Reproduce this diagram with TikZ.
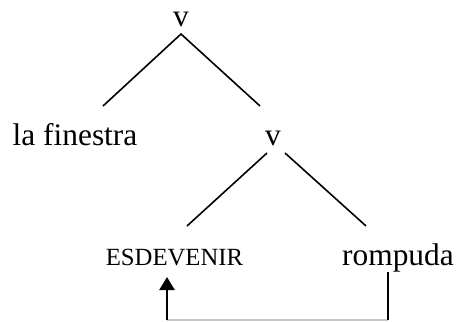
\documentclass[tikz,border=0pt]{standalone}
\usepackage{fontspec}
\setmainfont{Liberation Serif}
\usetikzlibrary{arrows.meta}

\tikzset{
  word/.style={inner sep=0pt, anchor=base, font=\fontsize{31.5}{32}\selectfont},
  small/.style={word, font=\fontsize{24.8}{26}\selectfont},
  branch/.style={line width=1.6bp},
}

\begin{document}
\begin{tikzpicture}[x=1bp, y=-1bp]
\useasboundingbox (0,0) rectangle (457,321);
% words of the tree
\node[word]  (V)   at (181,26)  {v};
\node[word]  (Fin) at (75,145)  {la finestra};
\node[word]  (VV)  at (273,145) {v};
\node[small] (Esd) at (174.5,265) {ESDEVENIR};
\node[word]  (Rom) at (398,265) {rompuda};
% ends of the branches
\coordinate (V-top)   at (181,34);
\coordinate (Fin-top) at (103,106);
\coordinate (VV-top)  at (260,106);
\coordinate (VV-l)    at (267,153);
\coordinate (VV-r)    at (285,153);
\coordinate (Esd-top) at (187,226);
\coordinate (Rom-top) at (366,226);
\draw[branch] (Fin-top) -- (V-top) -- (VV-top);
\draw[branch] (VV-l) -- (Esd-top);
\draw[branch] (VV-r) -- (Rom-top);
% movement
\coordinate (Esd-bot) at (167,320);
\coordinate (Esd-tip) at (167,277);
\coordinate (Rom-bot) at (388,320);
\draw[gray!45, line width=1.2bp] (Esd-bot) -- (Rom-bot);
\draw[line width=1.7bp] (Rom-bot) -- (Rom.south -| Rom-bot);
\draw[line width=2.4bp, -{Triangle[width=15bp, length=13bp]}] (Esd-bot) -- (Esd-tip);
\end{tikzpicture}
\end{document}
